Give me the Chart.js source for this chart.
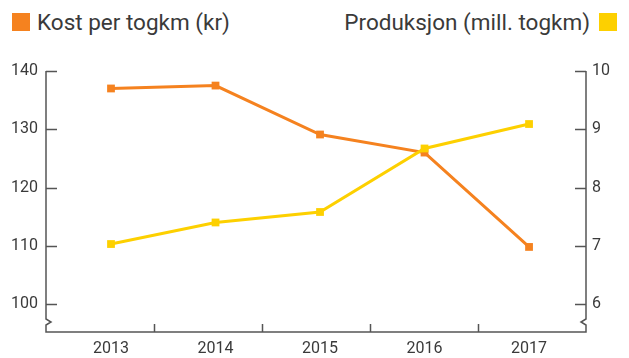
<!DOCTYPE html>
<html>
<head>
<meta charset="utf-8">
<script src="https://cdn.jsdelivr.net/npm/chart.js@4/dist/chart.umd.min.js"></script>
<style>
  html, body { margin: 0; padding: 0; background: #fff; }
  #wrap { position: relative; width: 629px; height: 358px; font-family: Roboto, "Liberation Sans", sans-serif; color: #3a3a3a; }
  canvas { position: absolute; left: 0; top: 0; }
  .key { position: absolute; top: 8px; font-size: 22.5px; line-height: 28px; white-space: nowrap; }
  .swatch { position: absolute; top: 13px; width: 18px; height: 18px; }
</style>
</head>
<body>
<div id="wrap">
  <div class="swatch" style="left:12px;background:#f5821f"></div>
  <div class="key" style="left:37px">Kost per togkm (kr)</div>
  <div class="key" style="right:39px">Produksjon (mill. togkm)</div>
  <div class="swatch" style="left:599px;background:#fdd000"></div>
  <canvas id="chart" width="629" height="358"></canvas>
</div>
<script>
const years = [2013, 2014, 2015, 2016, 2017];
const yearLabels = ['2013', '2014', '2015', '2016', '2017'];
const kostPerTogkm = [137.0, 137.5, 129.1, 126.0, 109.8];
const produksjon = [7.03, 7.40, 7.58, 8.67, 9.09];
const kostTicks = [100, 110, 120, 130, 140];
const prodTicks = [6, 7, 8, 9, 10];

const orange = '#f5821f';
const yellow = '#fdd000';
const axisColor = '#555555';
const textColor = '#3a3a3a';

// axis lines with inward ticks, the broken-axis zigzags and the year separators
const axisPlugin = {
    id: 'axisLines',
    afterDraw(chart) {
        const ctx = chart.ctx;
        const { left, right, top, bottom } = chart.chartArea;
        const yL = chart.scales.y;
        const yR = chart.scales.y1;
        ctx.save();
        ctx.strokeStyle = axisColor;
        ctx.lineWidth = 1.5;
        ctx.lineJoin = 'miter';

        const breakTop = bottom - 13;

        // left axis + x axis + right axis
        ctx.beginPath();
        ctx.moveTo(left, top);
        ctx.lineTo(left, breakTop);
        ctx.lineTo(left + 5, breakTop + 3);
        ctx.lineTo(left, breakTop + 6);
        ctx.lineTo(left, bottom);
        ctx.lineTo(right, bottom);
        ctx.lineTo(right, breakTop + 6);
        ctx.lineTo(right - 5, breakTop + 3);
        ctx.lineTo(right, breakTop);
        ctx.lineTo(right, top);
        ctx.stroke();

        ctx.beginPath();
        kostTicks.forEach(v => {
            const py = Math.round(yL.getPixelForValue(v)) + 0.5;
            ctx.moveTo(left, py);
            ctx.lineTo(left + 11, py);
        });
        prodTicks.forEach(v => {
            const py = Math.round(yR.getPixelForValue(v)) + 0.5;
            ctx.moveTo(right - 11, py);
            ctx.lineTo(right, py);
        });
        const slot = (right - left) / years.length;
        for (let i = 1; i < years.length; i++) {
            const px = Math.round(left + i * slot) + 0.5;
            ctx.moveTo(px, bottom);
            ctx.lineTo(px, bottom - 8);
        }
        ctx.stroke();
        ctx.restore();
    }
};

const tickFont = { family: 'Roboto, "Liberation Sans", sans-serif', size: 16 };

new Chart(document.getElementById('chart'), {
    type: 'line',
    data: {
        datasets: [{
            label: 'Kost per togkm (kr)',
            data: years.map((y, i) => ({ x: y, y: kostPerTogkm[i] })),
            yAxisID: 'y',
            borderColor: orange,
            backgroundColor: orange,
            borderWidth: 3,
            pointStyle: 'rect',
            pointRadius: 5.5,
            pointBorderWidth: 0,
            order: 1
        }, {
            label: 'Produksjon (mill. togkm)',
            data: years.map((y, i) => ({ x: y, y: produksjon[i] })),
            yAxisID: 'y1',
            borderColor: yellow,
            backgroundColor: yellow,
            borderWidth: 3,
            pointStyle: 'rect',
            pointRadius: 5.5,
            pointBorderWidth: 0,
            order: 0
        }]
    },
    options: {
        responsive: false,
        animation: false,
        layout: { padding: { top: 71, left: 0, right: 0, bottom: 0 } },
        plugins: {
            legend: { display: false },
            tooltip: { enabled: false }
        },
        scales: {
            x: {
                type: 'linear',
                min: 2012.378,
                max: 2017.545,
                grid: { display: false, drawTicks: false },
                border: { display: false },
                afterBuildTicks: s => { s.ticks = years.map(v => ({ value: v })); },
                afterFit: s => { s.height = 26; },
                ticks: {
                    padding: 7,
                    color: textColor,
                    font: tickFont,
                    callback: (v) => yearLabels[years.indexOf(v)]
                }
            },
            y: {
                position: 'left',
                min: 95.2,
                max: 140,
                grid: { display: false, drawTicks: false },
                border: { display: false },
                afterBuildTicks: s => { s.ticks = kostTicks.map(v => ({ value: v })); },
                afterFit: s => { s.width = 46; },
                ticks: { padding: 8, color: textColor, font: tickFont }
            },
            y1: {
                position: 'right',
                min: 5.52,
                max: 10,
                grid: { display: false, drawTicks: false },
                border: { display: false },
                afterBuildTicks: s => { s.ticks = prodTicks.map(v => ({ value: v })); },
                afterFit: s => { s.width = 43; },
                ticks: { padding: 6, color: textColor, font: tickFont }
            }
        }
    },
    plugins: [axisPlugin]
});
</script>
</body>
</html>
